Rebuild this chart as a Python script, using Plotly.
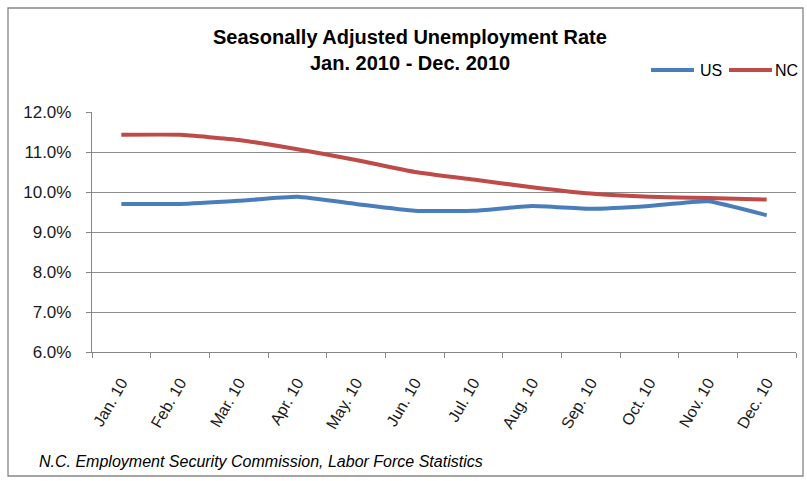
import plotly.graph_objects as go

months = ["Jan. 10", "Feb. 10", "Mar. 10", "Apr. 10", "May. 10", "Jun. 10",
          "Jul. 10", "Aug. 10", "Sep. 10", "Oct. 10", "Nov. 10", "Dec. 10"]
us_rate = [9.7, 9.7, 9.78, 9.88, 9.7, 9.53, 9.53, 9.65, 9.58, 9.65, 9.77, 9.42]
nc_rate = [11.43, 11.43, 11.3, 11.07, 10.8, 10.5, 10.31, 10.12, 9.96, 9.88, 9.85, 9.81]
y_ticks = [6, 7, 8, 9, 10, 11, 12]
y_tick_labels = ["6.0%", "7.0%", "8.0%", "9.0%", "10.0%", "11.0%", "12.0%"]
series_names = ["US", "NC"]
series_colors = ["#4a7ebb", "#be4b48"]

FONT = "Liberation Sans, Arial"

fig = go.Figure()
for name, vals, col in zip(series_names, [us_rate, nc_rate], series_colors):
    fig.add_trace(go.Scatter(x=months, y=vals, name=name, mode="lines",
                             line=dict(color=col, width=4, shape="spline", smoothing=0.4)))

L, R, T, B = 92, 11, 112, 129
W, H = 807, 481
pw, ph = W - L - R, H - T - B

def px(x):
    return (x - L) / pw

def py(y):
    return (H - B - y) / ph

# manual legend (line sample + label)
legend_items = [(651, 694, 698), (729, 772, 773)]
shapes = [dict(type="rect", xref="paper", yref="paper",
               x0=px(8), x1=px(803), y0=py(476), y1=py(8),
               line=dict(color="#868686", width=1.3), layer="below")]
annotations = []
for (x0, x1, tx), name, col in zip(legend_items, series_names, series_colors):
    shapes.append(dict(type="line", xref="paper", yref="paper",
                       x0=px(x0), x1=px(x1), y0=py(70), y1=py(70),
                       line=dict(color=col, width=4)))
    annotations.append(dict(text=name, xref="paper", yref="paper", x=px(tx), y=py(71),
                            xanchor="left", yanchor="middle", showarrow=False,
                            font=dict(size=16, family=FONT, color="#000")))

annotations += [
    dict(text="<b>Seasonally Adjusted Unemployment Rate</b>", xref="paper", yref="paper",
         x=px(410), y=py(37), xanchor="center", yanchor="middle", showarrow=False,
         font=dict(size=20, family=FONT, color="#000")),
    dict(text="<b>Jan. 2010 - Dec. 2010</b>", xref="paper", yref="paper",
         x=px(410), y=py(63), xanchor="center", yanchor="middle", showarrow=False,
         font=dict(size=20, family=FONT, color="#000")),
    dict(text="<i>N.C. Employment Security Commission, Labor Force Statistics</i>",
         xref="paper", yref="paper", x=px(37), y=py(461), xanchor="left",
         yanchor="middle", showarrow=False, font=dict(size=16, family=FONT, color="#000")),
]

fig.update_layout(
    width=W, height=H,
    margin=dict(l=L, r=R, t=T, b=B, autoexpand=False),
    paper_bgcolor="white", plot_bgcolor="white",
    font=dict(family=FONT, size=16, color="#1a1a1a"),
    showlegend=False,
    xaxis=dict(type="category", showgrid=False, showline=True, linecolor="#868686",
               linewidth=1.3, ticks="outside", tickson="boundaries", ticklen=5,
               tickcolor="#868686", tickangle=-60, tickfont=dict(size=16),
               ticklabelstandoff=14, range=[-0.5, 11.5], fixedrange=True),
    yaxis=dict(range=[6, 12], tickvals=y_ticks, ticktext=y_tick_labels,
               showgrid=True, gridcolor="#8c8c8c", gridwidth=1.3, showline=True,
               linecolor="#868686", linewidth=1.3, ticks="outside", ticklen=5,
               tickcolor="#868686", tickfont=dict(size=17), ticklabelstandoff=11,
               zeroline=False, fixedrange=True),
    shapes=shapes,
    annotations=annotations,
)

fig.write_html("out.html", config={"displayModeBar": False},
               post_script="document.body.style.margin='0';")
